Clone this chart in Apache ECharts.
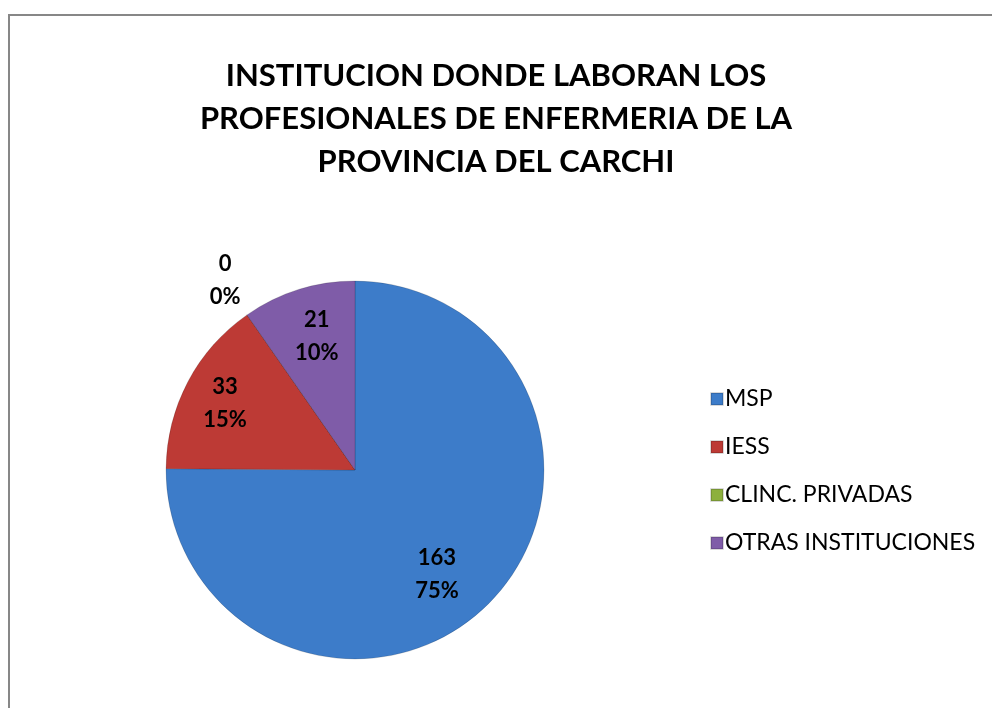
<!DOCTYPE html>
<html>
<head>
<meta charset="utf-8">
<script src="https://cdn.jsdelivr.net/npm/echarts@6/dist/echarts.min.js"></script>
<style>
html,body{margin:0;padding:0;background:#fff;}
#chart{width:992px;height:708px;}
</style>
</head>
<body>
<div id="chart"></div>
<script>
const titleText = 'INSTITUCION DONDE LABORAN LOS\nPROFESIONALES DE ENFERMERIA DE LA\nPROVINCIA DEL CARCHI';
const categories = ['MSP', 'IESS', 'CLINC. PRIVADAS', 'OTRAS INSTITUCIONES'];
const values = [163, 33, 0, 21];
const colors = ['#3D7CC9', '#BD3A35', '#8DB03E', '#7F5CA8'];

const FONT = 'Lato, "Open Sans", sans-serif';
const CX = 355, CY = 470, R = 189;

const pieData = categories.map((n, i) => ({
  name: n, value: values[i],
  itemStyle: {color: colors[i]}
}));

const labelData = categories.map((n, i) => {
  const d = {name: n, value: values[i]};
  if (values[i] === 0) {
    d.label = {position: 'outside'};
    d.labelLine = {show: false, length: 42, length2: 0};
  }
  return d;
});

// small per-label nudges to mimic the original label placement
const labelNudge = [{dx: -20, dy: 2}, {dx: -2, dy: 1}, {dx: 7, dy: 0, align: 'center'}, {dx: 5, dy: 5}];

const chart = echarts.init(document.getElementById('chart'), null, {renderer: 'canvas'});
chart.setOption({
  backgroundColor: '#fff',
  animation: false,
  color: colors,
  title: {
    text: titleText,
    left: 'center',
    top: 49,
    textStyle: {fontFamily: FONT, fontSize: 31, fontWeight: 'bold', color: '#000', lineHeight: 43}
  },
  legend: {
    orient: 'vertical',
    left: 705,
    top: 382,
    itemWidth: 12,
    itemHeight: 12,
    itemGap: 24,
    icon: 'rect',
    data: categories,
    textStyle: {fontFamily: FONT, fontSize: 23, lineHeight: 24, color: '#000', padding: [0, 0, 0, -3]},
    selectedMode: false
  },
  graphic: [{
    type: 'polyline',
    silent: true,
    shape: {points: [[9, 708], [9, 15], [992, 15]]},
    style: {stroke: '#878787', lineWidth: 2, fill: null}
  }],
  series: [
    {
      type: 'pie',
      center: [CX, CY],
      radius: [0, R],
      startAngle: 90,
      clockwise: true,
      silent: true,
      label: {show: false},
      labelLine: {show: false},
      itemStyle: {borderColor: 'rgba(0,0,0,0.15)', borderWidth: 1},
      data: pieData
    },
    {
      type: 'pie',
      center: [CX, CY],
      radius: [R * 0.5, R],
      startAngle: 90,
      clockwise: true,
      silent: true,
      percentPrecision: 0,
      itemStyle: {color: 'rgba(0,0,0,0)'},
      label: {
        show: true,
        position: 'inside',
        formatter: '{c}\n{d}%',
        fontFamily: FONT, fontSize: 22, fontWeight: 'bold', color: '#000', lineHeight: 33
      },
      labelLine: {show: false},
      labelLayout: function (p) {
        return labelNudge[p.dataIndex] || {};
      },
      data: labelData
    }
  ]
});
</script>
</body>
</html>
